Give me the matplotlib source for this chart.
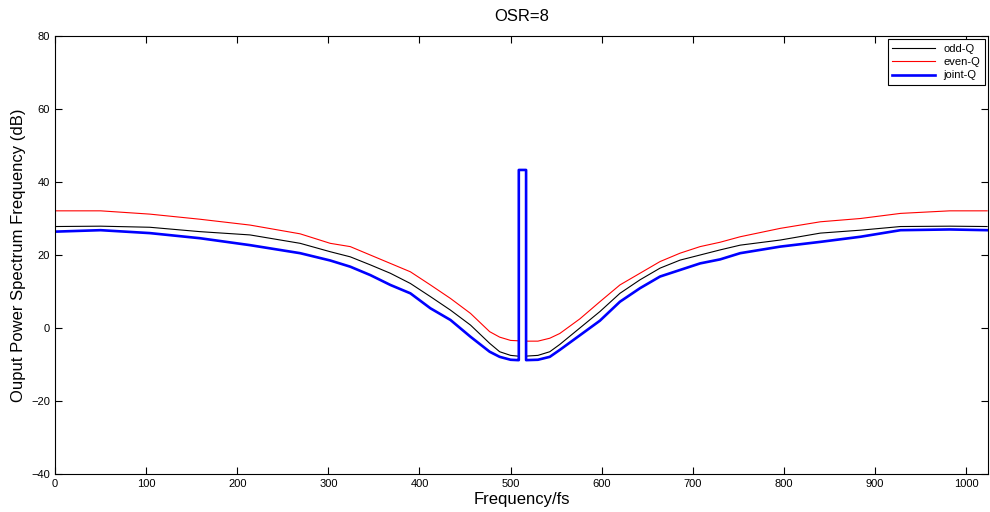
import numpy as np
from matplotlib import pyplot as plt

plt.rcParams['font.family'] = ['Liberation Sans', 'DejaVu Sans']

# values (frequency bin, dB)
x_left = [0, 50, 104, 159, 214, 269, 302, 324, 346, 368, 390, 412, 434, 456, 477, 488, 500, 508]
x_right = [517, 530, 543, 554, 576, 598, 620, 642, 664, 686, 708, 730, 752, 796, 840, 884, 928, 982, 1023]

odd_left = [27.8, 27.9, 27.6, 26.4, 25.5, 23.2, 20.9, 19.5, 17.3, 15.0, 12.2, 8.6, 4.9, 0.8, -4.2, -6.5, -7.5, -7.7]
odd_right = [-7.7, -7.5, -6.5, -4.5, 0.0, 4.5, 9.5, 13.2, 16.4, 18.6, 20.0, 21.4, 22.7, 24.1, 26.0, 26.8, 27.8, 27.9, 27.8]

even_left = [32.1, 32.1, 31.2, 29.8, 28.2, 25.8, 23.2, 22.3, 20.0, 17.7, 15.4, 11.8, 8.1, 4.0, -1.0, -2.5, -3.4, -3.5]
even_right = [-3.6, -3.6, -2.8, -1.5, 2.5, 7.2, 11.8, 15.0, 18.2, 20.5, 22.3, 23.5, 25.0, 27.3, 29.1, 30.0, 31.4, 32.1, 32.1]

joint_left = [26.4, 26.8, 26.0, 24.6, 22.7, 20.5, 18.5, 16.8, 14.5, 11.8, 9.5, 5.4, 2.2, -2.4, -6.5, -7.9, -8.7, -8.8]
joint_right = [-8.8, -8.7, -7.9, -6.0, -2.0, 2.0, 7.2, 10.9, 14.1, 15.9, 17.7, 18.8, 20.5, 22.3, 23.6, 25.0, 26.8, 27.0, 26.8]

# signal tone
tone_x = [509, 509, 517, 517]
tone_db = [-8.8, 43.3, 43.3, -8.8]

fig = plt.figure(figsize=(9.9, 5.12), dpi=100)
ax = fig.add_axes([0.0556, 0.0742, 0.9424, 0.8555])

ax.plot(x_left, odd_left, color='black', lw=0.8, label='odd-Q')
ax.plot(x_right, odd_right, color='black', lw=0.8)
ax.plot(x_left, even_left, color='red', lw=0.8, label='even-Q')
ax.plot(x_right, even_right, color='red', lw=0.8)
jx = x_left + tone_x + x_right
jy = joint_left + tone_db + joint_right
ax.plot(jx, jy, color='blue', lw=1.9, label='joint-Q')

ax.set_xlim(0, 1024)
ax.set_ylim(-40, 80)
ax.set_xticks(np.arange(0, 1001, 100))
ax.set_yticks(np.arange(-40, 81, 20))
ax.tick_params(direction='in', top=True, right=True, labelsize=8, length=5)
for s in ax.spines.values():
    s.set_linewidth(0.8)

ax.set_title('OSR=8', fontsize=12, pad=11)
ax.set_xlabel('Frequency/fs', fontsize=12, labelpad=2)
ax.set_ylabel('Ouput Power Spectrum Frequency (dB)', fontsize=12, labelpad=4)

leg = ax.legend(loc='upper right', fontsize=8, fancybox=False, edgecolor='black',
                framealpha=1, handlelength=3.8, borderaxespad=0.3, labelspacing=0.3)
leg.get_frame().set_linewidth(0.8)

plt.savefig('out.png', dpi=100)
